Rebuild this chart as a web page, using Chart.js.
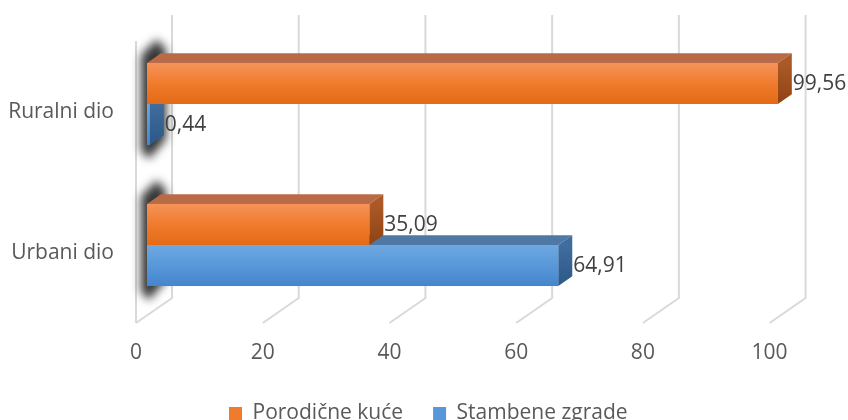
<!DOCTYPE html>
<html><head><meta charset="utf-8">
<script src="https://cdn.jsdelivr.net/npm/chart.js@4/dist/chart.umd.min.js"></script>
<style>
html,body{margin:0;padding:0;background:#fff;overflow:hidden;width:848px;height:420px}
canvas{display:block}
</style>
</head><body>
<canvas id="c" width="848" height="434"></canvas>
<script>
const categories = ['Ruralni dio', 'Urbani dio'];
const seriesNames = ['Porodične kuće', 'Stambene zgrade'];
const porodicneKuce = [99.56, 35.09];
const stambeneZgrade = [0.44, 64.91];
const xTickValues = [0, 20, 40, 60, 80, 100];

const FONT = '"Open Sans", "Noto Sans", sans-serif';
// 3D projection offsets (pixels)
const D = {fx: -11, fy: 7.5, bx: 25, by: -17.5, tx: 14, ty: -9.7};
const styles = [
  {top: '#b96b47', sideA: '#ab5a26', sideB: '#8f4214', g0: '#f5935a', g1: '#f07b2c', g2: '#e36a17', base: '#f07b2c'},
  {top: '#4f78a5', sideA: '#3f6d9e', sideB: '#2d5888', g0: '#6da8e1', g1: '#5898da', g2: '#4485cc', base: '#5898da'}
];

const fmt = v => v.toFixed(2).replace('.', ',');

const threeD = {
  id: 'threeD',
  beforeDraw(chart) {
    // nudge the legend block to the reference's horizontal position
    if (chart.legend && !chart.legend._shifted) {
      chart.legend.left += 38; chart.legend.right += 38;
      chart.legend._shifted = true;
    }
  },
  beforeDatasetsDraw(chart) {
    const ctx = chart.ctx, xs = chart.scales.x, ca = chart.chartArea;
    ctx.save();
    ctx.strokeStyle = '#d9d9d9';
    ctx.lineWidth = 2;
    // left wall front edge
    const p0 = xs.getPixelForValue(0);
    ctx.beginPath();
    ctx.moveTo(p0 + D.fx, ca.top + 7.5);
    ctx.lineTo(p0 + D.fx, ca.bottom + D.fy);
    ctx.stroke();
    xTickValues.forEach(v => {
      const p = xs.getPixelForValue(v);
      ctx.beginPath();
      ctx.moveTo(p + D.fx, ca.bottom + D.fy);
      ctx.lineTo(p + D.bx, ca.bottom + D.by);
      ctx.lineTo(p + D.bx, ca.top - 18.5);
      ctx.stroke();
    });
    // shadows of the bar end caps
    const m0 = chart.getDatasetMeta(0), m1 = chart.getDatasetMeta(1);
    ctx.filter = 'blur(5px)';
    ctx.fillStyle = 'rgba(20,20,20,0.85)';
    m0.data.forEach((e0, i) => {
      const e1 = m1.data[i];
      const top = e0.y - e0.height / 2, bot = e1.y + e1.height / 2, b = e0.base;
      ctx.beginPath();
      ctx.moveTo(b - 6, top - 8);
      ctx.lineTo(b + D.tx - 4, top + D.ty - 14);
      ctx.lineTo(b + D.tx + 5, top + D.ty - 4);
      ctx.lineTo(b + D.tx + 5, bot + D.ty + 4);
      ctx.lineTo(b + 2, bot + 14);
      ctx.lineTo(b - 6, bot + 6);
      ctx.closePath();
      ctx.fill();
    });
    ctx.restore();
  },
  afterDatasetsDraw(chart) {
    const ctx = chart.ctx;
    ctx.save();
    const order = [1, 0];
    const n = chart.data.labels.length;
    for (let i = n - 1; i >= 0; i--) {
      order.forEach((di) => {
        const el = chart.getDatasetMeta(di).data[i];
        const s = styles[di];
        const top = el.y - el.height / 2, bot = el.y + el.height / 2;
        const b = el.base, x = el.x;
        // top face
        ctx.fillStyle = s.top;
        ctx.beginPath();
        ctx.moveTo(b, top); ctx.lineTo(b + D.tx, top + D.ty);
        ctx.lineTo(x + D.tx, top + D.ty); ctx.lineTo(x, top);
        ctx.closePath(); ctx.fill();
        // side face
        const sg = ctx.createLinearGradient(0, top, 0, bot);
        sg.addColorStop(0, s.sideA); sg.addColorStop(1, s.sideB);
        ctx.fillStyle = sg;
        ctx.beginPath();
        ctx.moveTo(x, top); ctx.lineTo(x + D.tx, top + D.ty);
        ctx.lineTo(x + D.tx, bot + D.ty); ctx.lineTo(x, bot);
        ctx.closePath(); ctx.fill();
        // front face
        const fg = ctx.createLinearGradient(0, top, 0, bot);
        fg.addColorStop(0, s.g0); fg.addColorStop(0.5, s.g1); fg.addColorStop(1, s.g2);
        ctx.fillStyle = fg;
        ctx.fillRect(b, top, x - b, bot - top);
      });
    }
    // data labels
    ctx.fillStyle = '#404040';
    ctx.font = '21px ' + FONT;
    ctx.textBaseline = 'middle';
    ctx.textAlign = 'left';
    [0, 1].forEach(di => {
      const meta = chart.getDatasetMeta(di);
      const vals = chart.data.datasets[di].data;
      meta.data.forEach((el, i) => {
        ctx.fillText(fmt(vals[i]), el.x + 15, el.y + 1);
      });
    });
    ctx.restore();
  }
};

new Chart(document.getElementById('c'), {
  type: 'bar',
  data: {
    labels: categories,
    datasets: [
      {label: seriesNames[0], data: porodicneKuce, backgroundColor: styles[0].base, borderWidth: 0},
      {label: seriesNames[1], data: stambeneZgrade, backgroundColor: styles[1].base, borderWidth: 0}
    ]
  },
  options: {
    indexAxis: 'y',
    responsive: false,
    animation: false,
    barPercentage: 1,
    categoryPercentage: 0.582,
    layout: {padding: {top: 33.5, right: 67.4, left: 0, bottom: 0}},
    plugins: {
      legend: {
        position: 'bottom',
        labels: {font: {family: FONT, size: 21}, color: '#595959', boxWidth: 13, boxHeight: 13, padding: 30}
      },
      tooltip: {enabled: false}
    },
    scales: {
      x: {
        min: 0, max: 100,
        grid: {display: false},
        border: {display: false},
        afterFit(scale) { scale.height = scale.chart.height - scale.chart.legend.height - 315.5; },
        ticks: {stepSize: 20, color: '#595959', font: {family: FONT, size: 21}, padding: 17, labelOffset: -11, maxRotation: 0}
      },
      y: {
        grid: {display: false, drawTicks: false},
        border: {display: false},
        afterFit(scale) { scale.width = 147; scale.paddingTop = 0; scale.paddingBottom = 0; },
        ticks: {color: '#595959', font: {family: FONT, size: 21}, padding: 33, labelOffset: 8}
      }
    }
  },
  plugins: [threeD]
});
</script>
</body></html>
